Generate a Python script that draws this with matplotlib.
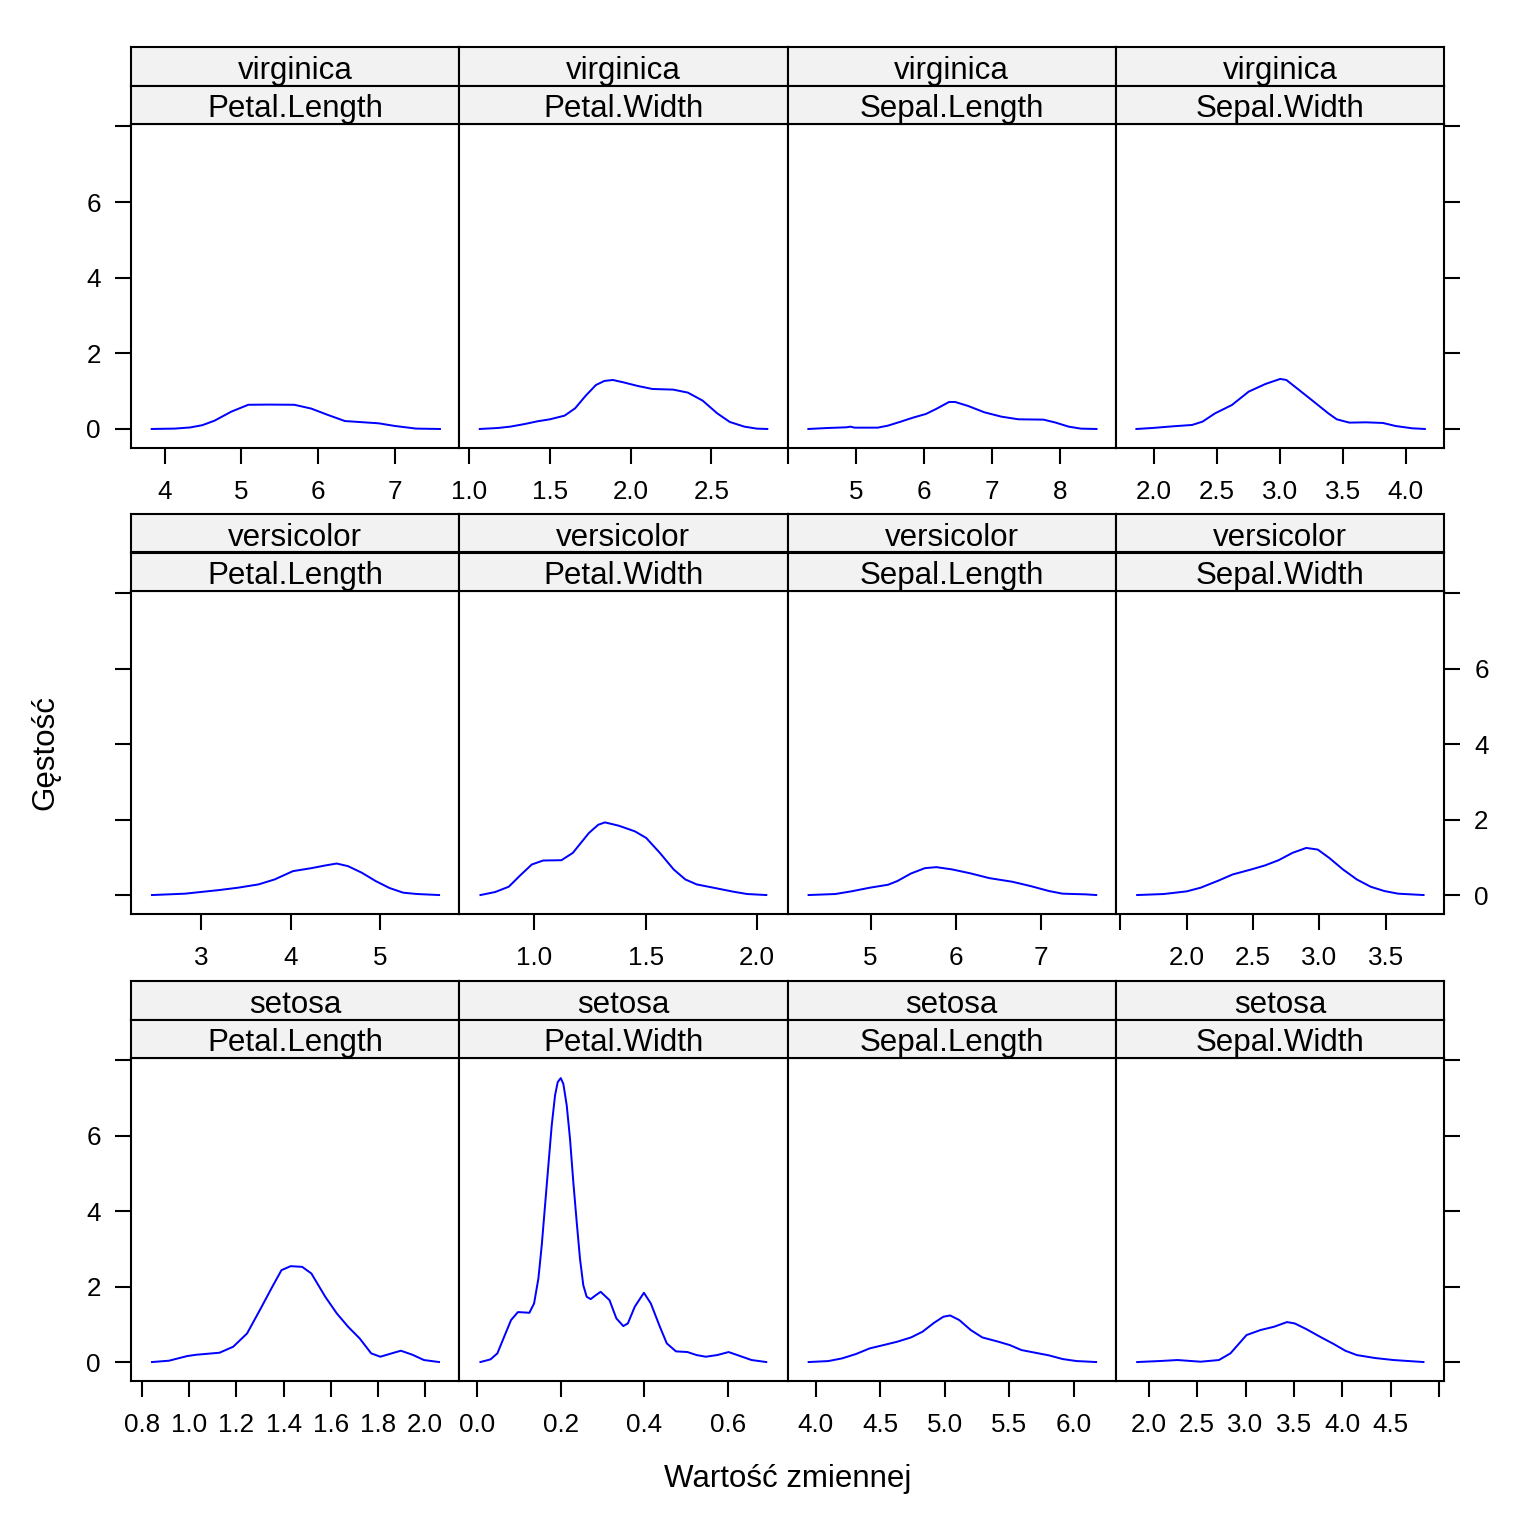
import matplotlib
matplotlib.use('Agg')
import matplotlib.pyplot as plt

plt.rcParams['font.family'] = ['Liberation Sans', 'DejaVu Sans']

# ---------------- data ----------------
species = ['virginica', 'versicolor', 'setosa']
variables = ['Petal.Length', 'Petal.Width', 'Sepal.Length', 'Sepal.Width']

vir_pl_x = [3.83, 4.13, 4.33, 4.49, 4.65, 4.87, 5.09, 5.36, 5.69, 5.91, 6.13, 6.35, 6.57, 6.79, 7.00, 7.28, 7.59]
vir_pl_y = [0.0, 0.01, 0.04, 0.10, 0.22, 0.46, 0.64, 0.645, 0.64, 0.54, 0.37, 0.21, 0.18, 0.15, 0.08, 0.01, 0.0]

vir_pw_x = [1.067, 1.178, 1.256, 1.346, 1.424, 1.501, 1.592, 1.657, 1.721, 1.786, 1.838, 1.890, 1.954,
            2.044, 2.135, 2.264, 2.355, 2.446, 2.536, 2.614, 2.704, 2.781, 2.846]
vir_pw_y = [0.0, 0.026, 0.062, 0.132, 0.203, 0.256, 0.353, 0.547, 0.873, 1.164, 1.270, 1.296, 1.235,
            1.138, 1.058, 1.041, 0.961, 0.750, 0.414, 0.185, 0.062, 0.009, 0.0]

vir_sl_x = [4.30, 4.58, 4.86, 4.92, 4.98, 5.32, 5.47, 5.66, 5.84, 6.03, 6.18, 6.37, 6.46, 6.65, 6.89,
            7.14, 7.39, 7.76, 7.94, 8.13, 8.31, 8.54]
vir_sl_y = [0.0, 0.026, 0.044, 0.062, 0.035, 0.035, 0.088, 0.194, 0.30, 0.397, 0.529, 0.714, 0.714,
            0.609, 0.441, 0.326, 0.256, 0.247, 0.168, 0.062, 0.009, 0.0]

vir_sw_x = [1.862, 1.988, 2.154, 2.304, 2.387, 2.487, 2.621, 2.754, 2.887, 3.004, 3.053, 3.137, 3.254,
            3.386, 3.453, 3.553, 3.686, 3.82, 3.92, 4.052, 4.153]
vir_sw_y = [0.0, 0.026, 0.071, 0.106, 0.194, 0.414, 0.635, 0.988, 1.19, 1.323, 1.296, 1.076, 0.767,
            0.414, 0.256, 0.168, 0.176, 0.159, 0.079, 0.018, 0.0]

ver_pl_x = [2.452, 2.82, 3.205, 3.41, 3.641, 3.821, 4.025, 4.231, 4.385, 4.513, 4.64, 4.795, 4.949,
            5.103, 5.256, 5.41, 5.656]
ver_pl_y = [0.0, 0.036, 0.133, 0.194, 0.282, 0.414, 0.634, 0.713, 0.784, 0.836, 0.766, 0.59, 0.37,
            0.186, 0.062, 0.027, 0.0]

ver_pw_x = [0.760, 0.826, 0.887, 0.938, 0.99, 1.041, 1.123, 1.174, 1.246, 1.288, 1.318, 1.38, 1.452,
            1.503, 1.564, 1.626, 1.678, 1.729, 1.811, 1.893, 1.955, 2.041]
ver_pw_y = [0.0, 0.08, 0.221, 0.52, 0.81, 0.916, 0.924, 1.118, 1.646, 1.865, 1.927, 1.839, 1.69,
            1.514, 1.118, 0.678, 0.414, 0.282, 0.186, 0.089, 0.027, 0.0]

ver_sl_x = [4.27, 4.584, 4.773, 4.989, 5.206, 5.313, 5.476, 5.638, 5.773, 5.962, 6.178, 6.395, 6.665,
            6.881, 7.098, 7.259, 7.53, 7.653]
ver_sl_y = [0.0, 0.027, 0.098, 0.194, 0.274, 0.37, 0.573, 0.713, 0.74, 0.678, 0.573, 0.449, 0.353,
            0.238, 0.106, 0.036, 0.018, 0.0]

ver_sw_x = [1.626, 1.827, 2.0, 2.104, 2.242, 2.346, 2.485, 2.588, 2.692, 2.796, 2.9, 2.987, 3.073,
            3.177, 3.281, 3.385, 3.489, 3.593, 3.784]
ver_sw_y = [0.0, 0.027, 0.098, 0.194, 0.388, 0.546, 0.678, 0.784, 0.924, 1.118, 1.25, 1.206, 0.986,
            0.678, 0.414, 0.221, 0.106, 0.036, 0.0]

set_pl_x = [0.841, 0.913, 0.991, 1.03, 1.128, 1.186, 1.245, 1.303, 1.352, 1.391, 1.43, 1.479, 1.518,
            1.577, 1.626, 1.674, 1.723, 1.772, 1.811, 1.859, 1.898, 1.947, 1.996, 2.06]
set_pl_y = [0.0, 0.035, 0.159, 0.194, 0.247, 0.406, 0.759, 1.422, 1.996, 2.437, 2.543, 2.525, 2.349,
            1.731, 1.289, 0.936, 0.627, 0.23, 0.141, 0.23, 0.3, 0.194, 0.053, 0.0]

set_pw_x = [0.0088, 0.0329, 0.0493, 0.0655, 0.0819, 0.0983, 0.1257, 0.1369, 0.1472, 0.1552, 0.1631,
            0.1710, 0.1790, 0.1869, 0.1933, 0.2005, 0.2067, 0.2148, 0.2226, 0.2305, 0.2386, 0.2464,
            0.2543, 0.2624, 0.2719, 0.2845, 0.2957, 0.3169, 0.3333, 0.3498, 0.3607, 0.3771, 0.399,
            0.4155, 0.4371, 0.4536, 0.4755, 0.5029, 0.5248, 0.5467, 0.5738, 0.6012, 0.6286, 0.656,
            0.691]
set_pw_y = [0.0, 0.071, 0.23, 0.671, 1.113, 1.325, 1.307, 1.555, 2.217, 3.099, 4.159,
            5.219, 6.278, 7.073, 7.426, 7.532, 7.382, 6.808, 5.925, 4.777, 3.717, 2.746,
            2.04, 1.731, 1.669, 1.775, 1.863, 1.642, 1.157, 0.954, 1.024, 1.466, 1.837,
            1.554, 0.936, 0.495, 0.283, 0.265, 0.185, 0.141, 0.185, 0.265, 0.159, 0.053,
            0.0]

set_sl_x = [3.947, 4.1, 4.206, 4.313, 4.42, 4.527, 4.633, 4.74, 4.829, 4.919, 4.99, 5.043, 5.114,
            5.203, 5.292, 5.417, 5.505, 5.595, 5.702, 5.808, 5.915, 6.022, 6.174]
set_sl_y = [0.0, 0.026, 0.097, 0.212, 0.362, 0.45, 0.539, 0.653, 0.804, 1.042, 1.201, 1.236, 1.113,
            0.848, 0.653, 0.539, 0.45, 0.318, 0.247, 0.177, 0.079, 0.026, 0.0]

set_sw_x = [1.881, 2.108, 2.299, 2.536, 2.725, 2.844, 3.01, 3.153, 3.294, 3.428, 3.508, 3.627, 3.769,
            3.911, 4.03, 4.149, 4.338, 4.528, 4.837]
set_sw_y = [0.0, 0.026, 0.053, 0.009, 0.053, 0.23, 0.715, 0.848, 0.936, 1.06, 1.024, 0.874, 0.671,
            0.477, 0.3, 0.185, 0.106, 0.053, 0.0]

# x-axis limits per panel (row, column)
xlims = [[(3.56, 7.842), (0.940, 2.971), (3.993, 8.823), (1.698, 4.305)],
         [(2.218, 5.881), (0.665, 2.136), (4.022, 7.883), (1.465, 3.938)],
         [(0.752, 2.146), (-0.0417, 0.7417), (3.783, 6.326), (1.660, 5.049)]]

# x ticks and labels per panel
xticks = [[[4, 5, 6, 7], [1.0, 1.5, 2.0, 2.5], [4, 5, 6, 7, 8], [2.0, 2.5, 3.0, 3.5, 4.0]],
          [[3, 4, 5], [1.0, 1.5, 2.0], [5, 6, 7], [1.5, 2.0, 2.5, 3.0, 3.5]],
          [[0.8, 1.0, 1.2, 1.4, 1.6, 1.8, 2.0], [0.0, 0.2, 0.4, 0.6], [4.0, 4.5, 5.0, 5.5, 6.0],
           [2.0, 2.5, 3.0, 3.5, 4.0, 4.5, 5.0]]]
xticklabels = [[['4', '5', '6', '7'], ['1.0', '1.5', '2.0', '2.5'], ['', '5', '6', '7', '8'],
                ['2.0', '2.5', '3.0', '3.5', '4.0']],
               [['3', '4', '5'], ['1.0', '1.5', '2.0'], ['5', '6', '7'], ['', '2.0', '2.5', '3.0', '3.5']],
               [['0.8', '1.0', '1.2', '1.4', '1.6', '1.8', '2.0'], ['0.0', '0.2', '0.4', '0.6'],
                ['4.0', '4.5', '5.0', '5.5', '6.0'], ['2.0', '2.5', '3.0', '3.5', '4.0', '4.5', '']]]

yticks = [0, 2, 4, 6, 8]
yticklabels = ['0', '2', '4', '6', '']
ylim = (-0.503, 8.065)

xlabel = 'Wartość zmiennej'
ylabel = 'Gęstość'

curves = [[(vir_pl_x, vir_pl_y), (vir_pw_x, vir_pw_y), (vir_sl_x, vir_sl_y), (vir_sw_x, vir_sw_y)],
          [(ver_pl_x, ver_pl_y), (ver_pw_x, ver_pw_y), (ver_sl_x, ver_sl_y), (ver_sw_x, ver_sw_y)],
          [(set_pl_x, set_pl_y), (set_pw_x, set_pw_y), (set_sl_x, set_sl_y), (set_sw_x, set_sw_y)]]

# ---------------- layout ----------------
W = H = 1536.0
fig = plt.figure(figsize=(10.24, 10.24), dpi=150)
fig.patch.set_facecolor('white')

col_edges = [131, 459.25, 787.5, 1115.75, 1444]
row_panels = [(124, 448), (591, 914), (1058, 1381)]
row_strip_top = [47, 514, 981]

LINE_COL = '#0000FF'
STRIP_BG = '#F2F2F2'
TICK_FS = 12.5
STRIP_FS = 15
LBL_FS = 15
LW = 1.0


def rect(x0, y0, x1, y1):
    return [x0 / W, 1 - y1 / H, (x1 - x0) / W, (y1 - y0) / H]


for r in range(3):
    yt, yb = row_panels[r]
    st = row_strip_top[r]
    sh = (yt - st) / 2.0
    for c in range(4):
        x0, x1 = col_edges[c], col_edges[c + 1]
        ax = fig.add_axes(rect(x0, yt, x1, yb))
        cx, cy = curves[r][c]
        ax.plot(cx, cy, color=LINE_COL, lw=0.95, solid_joinstyle='round')
        ax.set_xlim(*xlims[r][c])
        ax.set_ylim(*ylim)
        for s in ax.spines.values():
            s.set_linewidth(LW)
            s.set_color('black')
        ax.set_xticks(xticks[r][c])
        ax.set_xticklabels(xticklabels[r][c])
        ax.set_yticks(yticks)
        ax.set_yticklabels(yticklabels)
        ax.tick_params(axis='x', direction='out', length=7.5, width=LW, pad=8.0,
                       labelsize=TICK_FS, bottom=True, top=False)
        ax.tick_params(axis='y', direction='out', length=7.5, width=LW, pad=7.0,
                       labelsize=TICK_FS,
                       left=(c == 0), right=(c == 3),
                       labelleft=(c == 0 and r != 1), labelright=(c == 3 and r == 1))
        # strips: species on top, variable below
        for k, txt in enumerate([species[r], variables[c]]):
            sax = fig.add_axes(rect(x0, st + k * sh, x1, st + (k + 1) * sh))
            sax.set_facecolor(STRIP_BG)
            sax.set_xticks([])
            sax.set_yticks([])
            for s in sax.spines.values():
                s.set_linewidth(LW)
                s.set_color('black')
            sax.text(0.5, 0.18, txt, ha='center', va='baseline', fontsize=STRIP_FS,
                     transform=sax.transAxes)

fig.text(45 / W, 1 - 752.5 / H, ylabel, rotation=90, ha='center', va='center', fontsize=LBL_FS)
fig.text(787.5 / W, 1 - 1479 / H, xlabel, ha='center', va='center', fontsize=LBL_FS)

fig.savefig('out.png', dpi=150, facecolor='white')
